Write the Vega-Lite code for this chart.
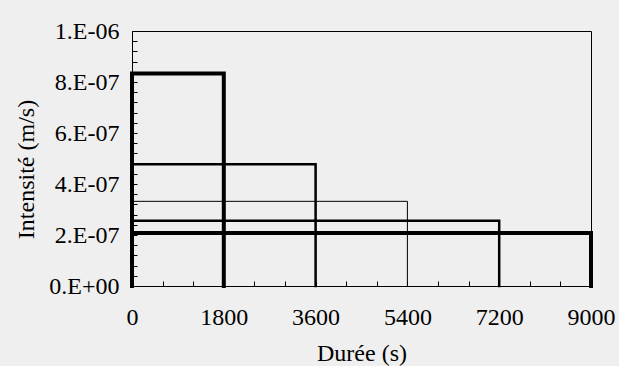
{
  "$schema": "https://vega.github.io/schema/vega-lite/v6.json",
  "width": 459,
  "height": 255,
  "autosize": {"type": "none"},
  "padding": {"left": 132, "top": 31, "right": 28, "bottom": 80},
  "background": "#efefef",
  "config": {
    "view": {"stroke": "black", "strokeWidth": 1},
    "font": "Liberation Serif",
    "axis": {
      "labelFont": "Liberation Serif",
      "titleFont": "Liberation Serif",
      "labelFontSize": 24,
      "titleFontSize": 24,
      "labelColor": "black",
      "titleColor": "black",
      "titleFontWeight": "normal",
      "tickColor": "black",
      "tickWidth": 1,
      "grid": false,
      "domain": false,
      "labelFlush": false,
      "labelOverlap": false,
      "labelBound": false
    }
  },
  "data": {
    "values": [
      {"series": "A", "k": 0, "t": 0, "intensity": 0},
      {"series": "A", "k": 1, "t": 0, "intensity": 8.33e-7},
      {"series": "A", "k": 2, "t": 1800, "intensity": 8.33e-7},
      {"series": "A", "k": 3, "t": 1800, "intensity": 0},
      {"series": "B", "k": 0, "t": 0, "intensity": 0},
      {"series": "B", "k": 1, "t": 0, "intensity": 4.77e-7},
      {"series": "B", "k": 2, "t": 3600, "intensity": 4.77e-7},
      {"series": "B", "k": 3, "t": 3600, "intensity": 0},
      {"series": "C", "k": 0, "t": 0, "intensity": 0},
      {"series": "C", "k": 1, "t": 0, "intensity": 3.32e-7},
      {"series": "C", "k": 2, "t": 5400, "intensity": 3.32e-7},
      {"series": "C", "k": 3, "t": 5400, "intensity": 0},
      {"series": "D", "k": 0, "t": 0, "intensity": 0},
      {"series": "D", "k": 1, "t": 0, "intensity": 2.56e-7},
      {"series": "D", "k": 2, "t": 7200, "intensity": 2.56e-7},
      {"series": "D", "k": 3, "t": 7200, "intensity": 0},
      {"series": "E", "k": 0, "t": 0, "intensity": 0},
      {"series": "E", "k": 1, "t": 0, "intensity": 2.08e-7},
      {"series": "E", "k": 2, "t": 9000, "intensity": 2.08e-7},
      {"series": "E", "k": 3, "t": 9000, "intensity": 0}
    ]
  },
  "mark": {"type": "line", "color": "black", "strokeJoin": "miter", "strokeCap": "square"},
  "encoding": {
    "x": {
      "field": "t",
      "type": "quantitative",
      "scale": {"domain": [0, 9000], "nice": false, "zero": false},
      "axis": {
        "title": "Durée (s)",
        "values": [0, 600, 1200, 1800, 2400, 3000, 3600, 4200, 4800, 5400, 6000, 6600, 7200, 7800, 8400, 9000],
        "labelExpr": "datum.value % 1800 == 0 ? format(datum.value, 'd') : ''",
        "tickSize": -5,
        "labelPadding": 24,
        "titleY": 55,
        "titleBaseline": "top"
      }
    },
    "y": {
      "field": "intensity",
      "type": "quantitative",
      "scale": {"domain": [0, 1e-6], "nice": false},
      "axis": {
        "title": "Intensité (m/s)",
        "values": [0, 4e-8, 8e-8, 1.2e-7, 1.6e-7, 2e-7, 2.4e-7, 2.8e-7, 3.2e-7, 3.6e-7, 4e-7, 4.4e-7, 4.8e-7, 5.2e-7, 5.6e-7, 6e-7, 6.4e-7, 6.8e-7, 7.2e-7, 7.6e-7, 8e-7, 8.4e-7, 8.8e-7, 9.2e-7, 9.6e-7, 1e-6],
        "labelExpr": "round(datum.value * 1e8) % 20 != 0 ? '' : (datum.value == 0 ? '0.E+00' : (round(datum.value * 1e7) >= 10 ? '1.E-06' : round(datum.value * 1e7) + '.E-07'))",
        "tickSize": -5,
        "labelPadding": 18,
        "titleX": -106,
        "titleY": 138,
        "titleBaseline": "middle"
      }
    },
    "detail": {"field": "series", "type": "nominal"},
    "order": {"field": "k", "type": "quantitative"},
    "strokeWidth": {
      "field": "series",
      "type": "nominal",
      "scale": {"type": "ordinal", "domain": ["A", "B", "C", "D", "E"], "range": [4, 2.5, 1, 2.5, 4]},
      "legend": null
    }
  }
}
